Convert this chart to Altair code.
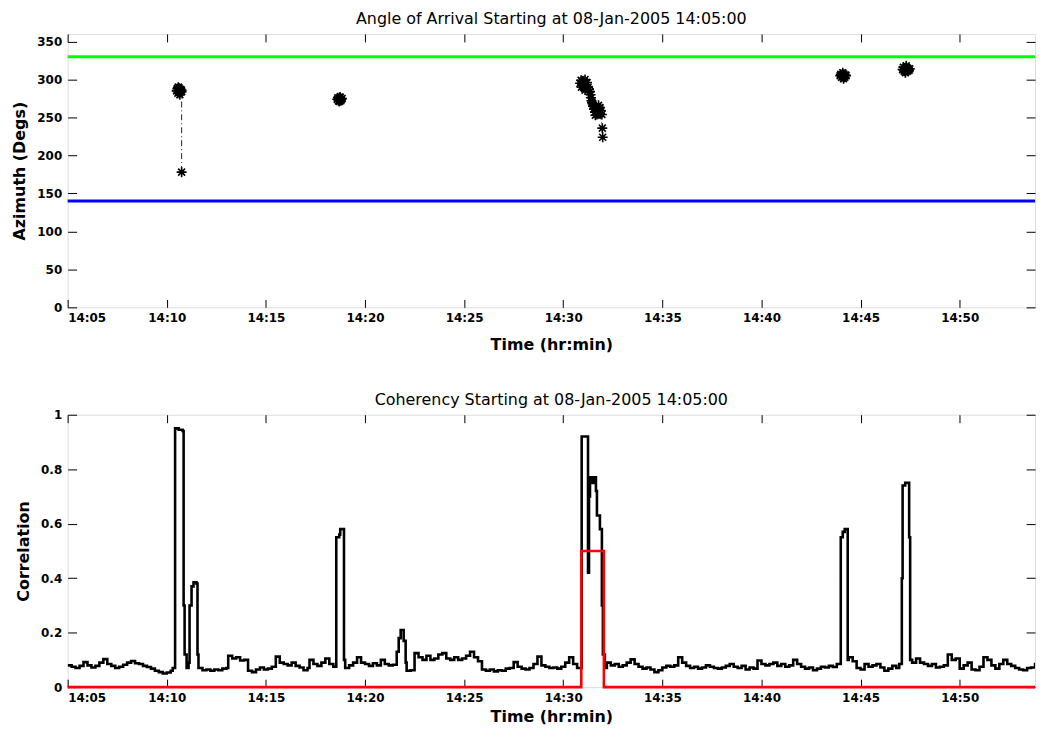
import altair as alt
import pandas as pd

FONT = "DejaVu Sans"

# ---------------- Angle of arrival (top panel) ----------------
aoa_min = [5.50, 5.53, 5.56, 5.59, 5.62, 5.65, 5.68, 5.71, 5.74, 5.58, 5.66, 5.62, 5.75, 5.75,
           13.60, 13.63, 13.66, 13.69, 13.72, 13.75, 13.78, 13.81, 13.84, 13.70, 13.74,
           25.85, 25.90, 25.95, 26.00, 26.05, 26.10, 26.15, 26.20, 26.25, 25.95, 26.05, 26.15,
           25.92, 26.10, 26.30, 26.35, 26.38, 26.40, 26.42, 26.45, 26.48,
           26.50, 26.55, 26.60, 26.65, 26.70, 26.75, 26.80, 26.85, 26.90, 26.95, 26.70, 26.60,
           26.85, 26.62, 26.78, 26.97, 26.99,
           38.97, 39.00, 39.04, 39.08, 39.12, 39.16, 39.20, 39.24, 39.27, 39.10, 39.14,
           42.12, 42.16, 42.20, 42.24, 42.28, 42.32, 42.36, 42.40, 42.44, 42.48, 42.30, 42.26]
aoa_deg = [285, 288, 282, 286, 289, 283, 287, 284, 286, 290, 280, 284, 284, 178,
           274, 276, 272, 275, 273, 276, 272, 274, 275, 271, 277,
           295, 299, 293, 298, 295, 300, 292, 296, 290, 297, 291, 288,
           290, 286, 287, 284, 280, 276, 272, 270, 268,
           265, 261, 264, 258, 262, 256, 261, 255, 259, 254, 254, 257,
           263, 253, 266, 236, 224,
           305, 307, 303, 306, 304, 307, 303, 306, 305, 309, 301,
           313, 316, 311, 315, 312, 316, 311, 314, 312, 314, 318, 309]
aoa_seg = [1] * 14 + [2] * 11 + [3] * 38 + [4] * 11 + [5] * 12

limit_levels = [330, 140]
limit_colors = ["#00ff00", "#0000ff"]

az_ticks = [0, 50, 100, 150, 200, 250, 300, 350]
az_max = 360

# ---------------- Coherency (bottom panel) ----------------
coh_min = [
    0.0, 0.2, 0.4, 0.6, 0.8, 1.0, 1.2, 1.4, 1.6, 1.8,
    2.0, 2.2, 2.4, 2.6, 2.8, 3.0, 3.2, 3.4, 3.6, 3.8,
    4.0, 4.2, 4.4, 4.6, 4.8, 5.0, 5.2, 5.3, 5.42, 5.6,
    5.8, 5.85, 5.9, 6.0, 6.1, 6.15, 6.25, 6.35, 6.5, 6.55,
    6.6, 6.8, 7.0, 7.2, 7.4, 7.6, 7.8, 8.0, 8.1, 8.3,
    8.5, 8.7, 8.9, 9.1, 9.3, 9.5, 9.7, 9.9, 10.1, 10.3,
    10.5, 10.7, 10.9, 11.1, 11.3, 11.5, 11.7, 11.9, 12.1, 12.2,
    12.4, 12.6, 12.8, 13.0, 13.2, 13.4, 13.55, 13.7, 13.75, 13.94,
    14.0, 14.2, 14.4, 14.6, 14.8, 15.0, 15.2, 15.4, 15.6, 15.8,
    16.0, 16.2, 16.4, 16.6, 16.7, 16.8, 16.95, 17.05, 17.1, 17.3,
    17.5, 17.7, 17.9, 18.1, 18.3, 18.5, 18.7, 18.9, 19.1, 19.3,
    19.5, 19.7, 19.9, 20.1, 20.3, 20.5, 20.7, 20.9, 21.1, 21.3,
    21.5, 21.7, 21.9, 22.1, 22.3, 22.5, 22.7, 22.9, 23.1, 23.3,
    23.5, 23.7, 23.9, 24.1, 24.3, 24.5, 24.7, 24.9, 25.1, 25.3,
    25.5, 25.7, 25.93, 26.25, 26.3, 26.35, 26.45, 26.55, 26.65, 26.7,
    26.85, 26.95, 27.0, 27.1, 27.2, 27.4, 27.6, 27.8, 28.0, 28.2,
    28.4, 28.6, 28.8, 29.0, 29.2, 29.4, 29.6, 29.8, 30.0, 30.2,
    30.4, 30.6, 30.8, 31.0, 31.2, 31.4, 31.6, 31.8, 32.0, 32.2,
    32.4, 32.6, 32.8, 33.0, 33.2, 33.4, 33.6, 33.8, 34.0, 34.2,
    34.4, 34.6, 34.8, 35.0, 35.2, 35.4, 35.6, 35.8, 36.0, 36.2,
    36.4, 36.6, 36.8, 37.0, 37.2, 37.4, 37.6, 37.8, 38.0, 38.2,
    38.4, 38.6, 38.8, 39.0, 39.1, 39.2, 39.35, 39.4, 39.6, 39.8,
    40.0, 40.2, 40.4, 40.6, 40.8, 41.0, 41.2, 41.4, 41.6, 41.8,
    41.95, 42.08, 42.12, 42.25, 42.45, 42.5, 42.6, 42.8, 43.0, 43.2,
    43.4, 43.6, 43.8, 44.0, 44.2, 44.4, 44.6, 44.8, 45.0, 45.2,
    45.4, 45.6, 45.8, 46.0, 46.2, 46.4, 46.6, 46.8, 47.0, 47.2,
    47.4, 47.6, 47.8, 48.0, 48.2, 48.4, 48.6, 48.8, 49.0, 49.2]
coh_val = [
    .080, .075, .070, .078, .092, .080, .072, .078, .090, .103,
    .085, .078, .070, .075, .082, .090, .096, .088, .085, .078,
    .074, .068, .060, .055, .050, .054, .060, .070, .950, .945,
    .940, .300, .120, .070, .090, .300, .370, .385, .380, .120,
    .070, .062, .065, .060, .065, .062, .068, .070, .115, .105,
    .110, .098, .100, .060, .055, .065, .072, .065, .068, .075,
    .112, .090, .085, .080, .090, .078, .072, .062, .070, .100,
    .085, .078, .090, .105, .085, .075, .550, .560, .580, .100,
    .070, .080, .090, .110, .090, .085, .078, .088, .080, .100,
    .085, .080, .082, .130, .180, .210, .170, .090, .060, .062,
    .125, .110, .100, .115, .100, .105, .120, .125, .105, .100,
    .110, .100, .105, .115, .130, .110, .095, .065, .060, .065,
    .058, .062, .060, .068, .070, .092, .075, .068, .065, .070,
    .085, .112, .080, .075, .070, .072, .068, .075, .090, .110,
    .085, .070, .920, .420, .700, .770, .750, .770, .720, .630,
    .580, .300, .120, .070, .090, .080, .085, .075, .080, .090,
    .102, .085, .075, .068, .072, .065, .055, .062, .072, .078,
    .075, .080, .110, .090, .078, .070, .075, .068, .072, .080,
    .075, .070, .068, .072, .078, .085, .075, .070, .078, .065,
    .072, .068, .098, .085, .080, .085, .090, .078, .085, .075,
    .080, .100, .085, .075, .068, .072, .062, .068, .075, .072,
    .078, .074, .085, .550, .570, .580, .100, .110, .095, .070,
    .065, .085, .075, .080, .085, .072, .060, .068, .078, .070,
    .085, .400, .740, .750, .550, .100, .090, .105, .090, .085,
    .078, .085, .072, .075, .080, .120, .100, .105, .068, .080,
    .090, .065, .062, .075, .110, .100, .080, .068, .085, .100,
    .085, .078, .070, .065, .062, .070, .072, .085, .080, .082]

det_min = [0.0, 25.91, 27.05, 48.8]
det_val = [0.0, 0.5, 0.0, 0.0]

corr_ticks = [0, 0.2, 0.4, 0.6, 0.8, 1]

# ---------------- shared x axis ----------------
x_tick_values = [0, 5, 10, 15, 20, 25, 30, 35, 40, 45]
x_tick_labels = ["14:05", "14:10", "14:15", "14:20", "14:25",
                 "14:30", "14:35", "14:40", "14:45", "14:50"]
x_end = 48.8

label_expr = "[" + ",".join("'%s'" % s for s in x_tick_labels) + "][round(datum.value / 5)]"
xscale = alt.Scale(domain=[0, x_end], nice=False, zero=False)

PLOT_W = 973

ASTERISK = "M-1,0L1,0M0,-1L0,1M-0.7,-0.7L0.7,0.7M-0.7,0.7L0.7,-0.7"


def x_main(title_pad):
    return alt.Axis(orient="bottom", values=x_tick_values, labelExpr=label_expr,
                    title="Time (hr:min)", ticks=False, tickSize=0, domain=False, grid=False,
                    labelFont=FONT, labelFontSize=12, labelFontWeight="bold", labelColor="black",
                    labelPadding=5, titleFont=FONT, titleFontSize=16, titleFontWeight="bold",
                    titleColor="black", titlePadding=title_pad)


def x_ticks(orient):
    return alt.Axis(orient=orient, values=x_tick_values, labels=False, domain=False, grid=False,
                    ticks=True, tickSize=8, tickColor="black", tickWidth=1, offset=-8, title=None,
                    minExtent=0, maxExtent=0)


def y_main(values, title, fmt):
    return alt.Axis(orient="left", values=values, format=fmt, title=title, ticks=False, tickSize=0,
                    domain=False, grid=False, labelFont=FONT, labelFontSize=12, labelFontWeight="bold",
                    labelColor="black", labelPadding=6, titleFont=FONT, titleFontSize=16,
                    titleFontWeight="bold", titleColor="black", titlePadding=9)


def y_ticks(values, orient):
    return alt.Axis(orient=orient, values=values, labels=False, domain=False, grid=False,
                    ticks=True, tickSize=9, tickColor="black", tickWidth=1, offset=-9, title=None,
                    minExtent=0, maxExtent=0)


def panel_title(text, off):
    return alt.TitleParams(text=text, font=FONT, fontSize=16, fontWeight="normal", color="black",
                           anchor="middle", frame="group", offset=off)


# ---------------- top panel ----------------
aoa_df = pd.DataFrame({"m": aoa_min, "az": aoa_deg, "seg": aoa_seg,
                       "idx": list(range(len(aoa_min)))})
lim_df = pd.DataFrame({"level": limit_levels, "col": limit_colors})
yscale_top = alt.Scale(domain=[0, az_max], nice=False, zero=True)

rules = alt.Chart(lim_df).mark_rule(strokeWidth=3).encode(
    y=alt.Y("level:Q", scale=yscale_top, axis=None),
    color=alt.Color("col:N", scale=None),
)
aoa_line = alt.Chart(aoa_df).mark_line(color="#222222", strokeWidth=1,
                                       strokeDash=[6, 3, 1, 3], clip=True).encode(
    x=alt.X("m:Q", scale=xscale, axis=x_main(13)),
    y=alt.Y("az:Q", scale=yscale_top, axis=y_main(az_ticks, "Azimuth (Degs)", "d")),
    detail="seg:N",
    order="idx:Q",
)
aoa_pts = alt.Chart(aoa_df).mark_point(shape=ASTERISK, size=100, filled=False, color="black",
                                       strokeWidth=1.6, opacity=1, clip=True).encode(
    x=alt.X("m:Q", scale=xscale, axis=x_ticks("bottom")),
    y=alt.Y("az:Q", scale=yscale_top, axis=y_ticks(az_ticks, "left")),
)
aoa_frame = alt.Chart(aoa_df).mark_point(opacity=0, clip=True).encode(
    x=alt.X("m:Q", scale=xscale, axis=x_ticks("top")),
    y=alt.Y("az:Q", scale=yscale_top, axis=y_ticks(az_ticks, "right")),
)
top = alt.layer(rules, aoa_line, aoa_pts, aoa_frame).resolve_axis(
    x="independent", y="independent"
).properties(
    width=PLOT_W, height=275,
    title=panel_title("Angle of Arrival Starting at 08-Jan-2005 14:05:00", 7),
)

# ---------------- bottom panel ----------------
coh_df = pd.DataFrame({"m": coh_min, "c": coh_val})
det_df = pd.DataFrame({"m": det_min, "c": det_val})
yscale_bot = alt.Scale(domain=[0, 1], nice=False, zero=True)

coh_line = alt.Chart(coh_df).mark_line(color="black", strokeWidth=2.6, interpolate="step-after",
                                       clip=True).encode(
    x=alt.X("m:Q", scale=xscale, axis=x_main(6)),
    y=alt.Y("c:Q", scale=yscale_bot, axis=y_main(corr_ticks, "Correlation", "~g")),
)
det_line = alt.Chart(det_df).mark_line(color="#ff0000", strokeWidth=2.6, interpolate="step-after",
                                       clip=False).encode(
    x=alt.X("m:Q", scale=xscale, axis=x_ticks("bottom")),
    y=alt.Y("c:Q", scale=yscale_bot, axis=y_ticks(corr_ticks, "left")),
)
coh_frame = alt.Chart(coh_df).mark_point(opacity=0, clip=True).encode(
    x=alt.X("m:Q", scale=xscale, axis=x_ticks("top")),
    y=alt.Y("c:Q", scale=yscale_bot, axis=y_ticks(corr_ticks, "right")),
)
bottom = alt.layer(coh_line, det_line, coh_frame).resolve_axis(
    x="independent", y="independent"
).properties(
    width=PLOT_W, height=274,
    title=panel_title("Coherency Starting at 08-Jan-2005 14:05:00", 1),
)

chart = alt.vconcat(top, bottom, spacing=38).configure_view(
    stroke="black", strokeWidth=1
).configure(font=FONT, background="white",
            padding={"left": 3, "top": 0, "right": 0, "bottom": 0})

chart.save("out.html", embed_options={"renderer": "svg", "actions": False})
